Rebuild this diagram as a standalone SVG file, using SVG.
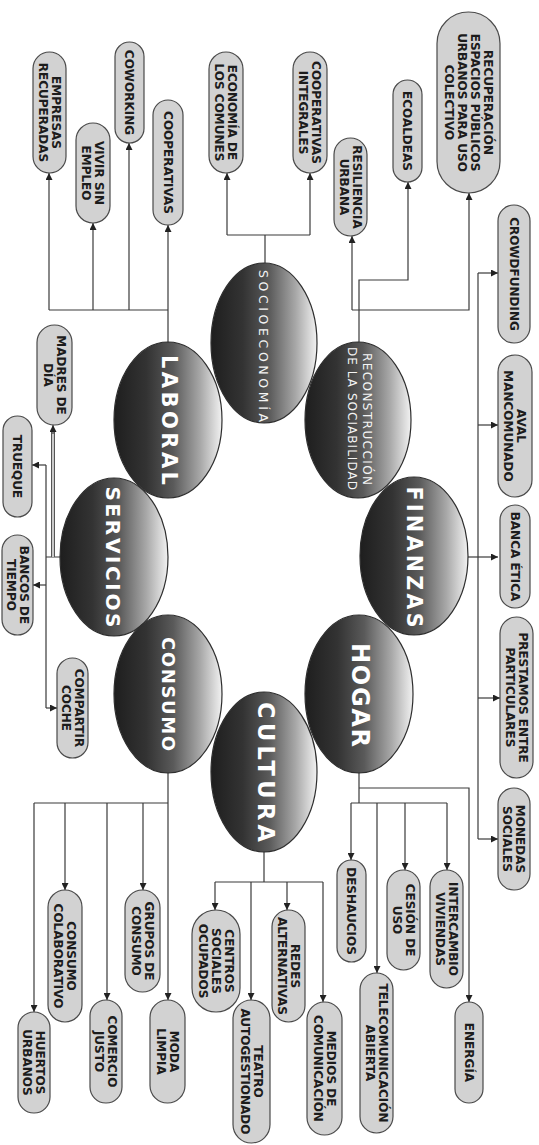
<svg xmlns="http://www.w3.org/2000/svg" width="539" height="1145" viewBox="0 0 539 1145">
<style>
.bg{fill:#ffffff}
.big{fill:url(#eg);stroke:#2e2e2e;stroke-width:1.2}
.lbl{font-family:"DejaVu Sans","Open Sans",sans-serif;font-weight:bold;fill:#ffffff;text-anchor:middle}
.lbs{font-family:"DejaVu Sans","Open Sans",sans-serif;font-weight:normal;fill:#f4f4f4;text-anchor:middle}
.nd{fill:#d2d2d2;stroke:#4a4a4a;stroke-width:1.2}
.t{font-family:"DejaVu Sans","Liberation Sans",sans-serif;font-weight:bold;font-size:12px;fill:#1c1c1c;text-anchor:middle}
.c{fill:none;stroke:#3a3a3a;stroke-width:1.2}
.ca{fill:none;stroke:#3a3a3a;stroke-width:1.2;marker-end:url(#ar)}
.dbl{fill:none;stroke:#555;stroke-width:4}
.dbli{fill:none;stroke:#e6e6e6;stroke-width:1.6}
</style>
<defs>
<linearGradient id="eg" x1="0" y1="0" x2="1" y2="0">
<stop offset="0" stop-color="#1e1e1e"/>
<stop offset="0.3" stop-color="#333333"/>
<stop offset="0.55" stop-color="#5a5a5a"/>
<stop offset="0.8" stop-color="#a8a8a8"/>
<stop offset="1" stop-color="#f2f2f2"/>
</linearGradient>
<marker id="ar" markerUnits="userSpaceOnUse" markerWidth="8" markerHeight="7" refX="7" refY="3.5" orient="auto">
<path d="M0,0 L7,3.5 L0,7 z" fill="#222"/>
</marker>
</defs>
<rect class="bg" x="0" y="0" width="539" height="1145"/>

<g id="connectors">
<!-- Laboral -->
<path class="c" d="M168,342 V310 M49,310 H168"/>
<path class="ca" d="M49,310 V173"/>
<path class="ca" d="M93,310 V223"/>
<path class="ca" d="M129,310 V143"/>
<path class="ca" d="M168,310 V225"/>
<!-- Socioeconomia -->
<path class="c" d="M265,263 V235 M227,235 H310"/>
<path class="ca" d="M227,235 V173"/>
<path class="ca" d="M310,235 V173"/>
<!-- Reconstruccion -->
<path class="ca" d="M359,342 V280 H408 V182"/>
<path class="ca" d="M352,310 H469 V193"/>
<path class="ca" d="M352,310 V236"/>
<!-- Finanzas -->
<path class="c" d="M478,273 V839"/>
<path class="ca" d="M468,557 H498"/>
<path class="ca" d="M478,273 H498"/>
<path class="ca" d="M478,425 H498"/>
<path class="ca" d="M478,698 H500"/>
<path class="ca" d="M478,839 H498"/>
<!-- Hogar -->
<path class="c" d="M359,773 V803 M351,803 H447"/>
<path class="ca" d="M359,788 H469 V1002"/>
<path class="ca" d="M351,803 V860"/>
<path class="ca" d="M377,803 V973"/>
<path class="ca" d="M405,803 V870"/>
<path class="ca" d="M447,803 V870"/>
<!-- Cultura -->
<path class="c" d="M264,852 V882 M215,882 H323"/>
<path class="ca" d="M215,882 V910"/>
<path class="ca" d="M251,882 V1000"/>
<path class="ca" d="M287,882 V910"/>
<path class="ca" d="M323,882 V1002"/>
<!-- Consumo -->
<path class="c" d="M34,803 H168"/>
<path class="ca" d="M168,773 V1000"/>
<path class="ca" d="M34,803 V1012"/>
<path class="ca" d="M65,803 V890"/>
<path class="ca" d="M107,803 V1000"/>
<path class="ca" d="M143,803 V890"/>
<!-- Servicios -->
<path class="c" d="M60,557 H46 M46,465 V708"/>
<path class="ca" d="M46,465 H32"/>
<path class="ca" d="M46,585 H33"/>
<path class="ca" d="M46,708 H57"/>
<path class="dbl" d="M53,557 V432"/>
<path class="dbli" d="M53,557 V432"/>
<path class="ca" d="M53,434 V425"/>
</g>

<g id="socioeconomia">
<ellipse class="big" cx="264" cy="343" rx="53" ry="80"/>
<text class="lbs" transform="translate(263.5,346) rotate(90)" y="4.6" font-size="12.5" textLength="152" lengthAdjust="spacing">SOCIOECONOMÍA</text>
</g>
<g id="reconstruccion">
<ellipse class="big" cx="358" cy="420" rx="53" ry="78"/>
<text class="lbs" transform="translate(367,419) rotate(90)" y="4.4" font-size="12" textLength="132" lengthAdjust="spacing">RECONSTRUCCIÓN</text>
<text class="lbs" transform="translate(352,418.5) rotate(90)" y="4.4" font-size="12" textLength="143" lengthAdjust="spacing">DE LA SOCIABILIDAD</text>
</g>
<g id="laboral">
<ellipse class="big" cx="168" cy="420" rx="54" ry="78"/>
<text class="lbl" transform="translate(169.5,420) rotate(90)" y="7.7" font-size="21" textLength="130" lengthAdjust="spacing">LABORAL</text>
</g>
<g id="finanzas">
<ellipse class="big" cx="414" cy="556" rx="54" ry="79"/>
<text class="lbl" transform="translate(414,557) rotate(90)" y="7.5" font-size="20.5" textLength="141" lengthAdjust="spacing">FINANZAS</text>
</g>
<g id="servicios">
<ellipse class="big" cx="114" cy="557" rx="54" ry="79"/>
<text class="lbl" transform="translate(113.5,557) rotate(90)" y="7.3" font-size="20" textLength="141" lengthAdjust="spacing">SERVICIOS</text>
</g>
<g id="hogar">
<ellipse class="big" cx="359" cy="694" rx="54" ry="79"/>
<text class="lbl" transform="translate(361,695) rotate(90)" y="8.8" font-size="24" textLength="104" lengthAdjust="spacing">HOGAR</text>
</g>
<g id="consumo">
<ellipse class="big" cx="168" cy="694" rx="54" ry="79"/>
<text class="lbl" transform="translate(168.5,694) rotate(90)" y="6.6" font-size="18" textLength="114" lengthAdjust="spacing">CONSUMO</text>
</g>
<g id="cultura">
<ellipse class="big" cx="264" cy="772" rx="53" ry="80"/>
<text class="lbl" transform="translate(266,772) rotate(90)" y="8.2" font-size="22.5" textLength="140" lengthAdjust="spacing">CULTURA</text>
</g>

<g id="empresas-recuperadas">
<rect class="nd" x="33" y="52" width="33" height="121" rx="16.5"/>
<text class="t" transform="translate(49.5,112.5) rotate(90)"><tspan x="0" y="-2.1">EMPRESAS</tspan><tspan x="0" y="10.9">RECUPERADAS</tspan></text>
</g>
<g id="vivir-sin-empleo">
<rect class="nd" x="76" y="123" width="34" height="100" rx="17"/>
<text class="t" transform="translate(93,173) rotate(90)"><tspan x="0" y="-2.1">VIVIR SIN</tspan><tspan x="0" y="10.9">EMPLEO</tspan></text>
</g>
<g id="coworking">
<rect class="nd" x="115" y="42" width="29" height="101" rx="14.5"/>
<text class="t" transform="translate(129.5,92.5) rotate(90)"><tspan x="0" y="4.4">COWORKING</tspan></text>
</g>
<g id="cooperativas">
<rect class="nd" x="153" y="100" width="30" height="125" rx="15"/>
<text class="t" transform="translate(168,162.5) rotate(90)"><tspan x="0" y="4.4">COOPERATIVAS</tspan></text>
</g>
<g id="economia-comunes">
<rect class="nd" x="209" y="52" width="34" height="121" rx="17"/>
<text class="t" transform="translate(226,112.5) rotate(90)"><tspan x="0" y="-2.1">ECONOMÍA DE</tspan><tspan x="0" y="10.9">LOS COMUNES</tspan></text>
</g>
<g id="cooperativas-integrales">
<rect class="nd" x="293" y="52" width="34" height="121" rx="17"/>
<text class="t" transform="translate(310,112.5) rotate(90)"><tspan x="0" y="-2.1">COOPERATIVAS</tspan><tspan x="0" y="10.9">INTEGRALES</tspan></text>
</g>
<g id="resiliencia-urbana">
<rect class="nd" x="334" y="138" width="33" height="98" rx="16.5"/>
<text class="t" transform="translate(350.5,187) rotate(90)"><tspan x="0" y="-2.1">RESILIENCIA</tspan><tspan x="0" y="10.9">URBANA</tspan></text>
</g>
<g id="ecoaldeas">
<rect class="nd" x="393" y="80" width="29" height="102" rx="14.5"/>
<text class="t" transform="translate(407.5,131) rotate(90)"><tspan x="0" y="4.4">ECOALDEAS</tspan></text>
</g>
<g id="recuperacion-espacios">
<rect class="nd" x="437" y="12" width="63" height="181" rx="31.5"/>
<text class="t" transform="translate(468.5,102.5) rotate(90)"><tspan x="0" y="-15.1">RECUPERACIÓN</tspan><tspan x="0" y="-2.1">ESPACIOS PÚBLICOS</tspan><tspan x="0" y="10.9">URBANOS PARA USO</tspan><tspan x="0" y="23.9">COLECTIVO</tspan></text>
</g>
<g id="crowdfunding">
<rect class="nd" x="498" y="205" width="32" height="138" rx="16"/>
<text class="t" transform="translate(514,274) rotate(90)"><tspan x="0" y="4.4">CROWDFUNDING</tspan></text>
</g>
<g id="aval-mancomunado">
<rect class="nd" x="498" y="355" width="34" height="142" rx="17"/>
<text class="t" transform="translate(515,426) rotate(90)"><tspan x="0" y="-2.1">AVAL</tspan><tspan x="0" y="10.9">MANCOMUNADO</tspan></text>
</g>
<g id="banca-etica">
<rect class="nd" x="500" y="505" width="30" height="103" rx="15"/>
<text class="t" transform="translate(515,556.5) rotate(90)"><tspan x="0" y="4.4">BANCA ÉTICA</tspan></text>
</g>
<g id="prestamos">
<rect class="nd" x="500" y="617" width="33" height="161" rx="16.5"/>
<text class="t" transform="translate(516.5,697.5) rotate(90)"><tspan x="0" y="-2.1">PRESTAMOS ENTRE</tspan><tspan x="0" y="10.9">PARTICULARES</tspan></text>
</g>
<g id="monedas-sociales">
<rect class="nd" x="498" y="788" width="32" height="102" rx="16"/>
<text class="t" transform="translate(514,839) rotate(90)"><tspan x="0" y="-2.1">MONEDAS</tspan><tspan x="0" y="10.9">SOCIALES</tspan></text>
</g>
<g id="intercambio-viviendas">
<rect class="nd" x="430" y="870" width="33" height="118" rx="16.5"/>
<text class="t" transform="translate(446.5,929) rotate(90)"><tspan x="0" y="-2.1">INTERCAMBIO</tspan><tspan x="0" y="10.9">VIVIENDAS</tspan></text>
</g>
<g id="cesion-uso">
<rect class="nd" x="387" y="870" width="33" height="100" rx="16.5"/>
<text class="t" transform="translate(403.5,920) rotate(90)"><tspan x="0" y="-2.1">CESIÓN DE</tspan><tspan x="0" y="10.9">USO</tspan></text>
</g>
<g id="deshaucios">
<rect class="nd" x="337" y="860" width="29" height="102" rx="14.5"/>
<text class="t" transform="translate(351.5,911) rotate(90)"><tspan x="0" y="4.4">DESHAUCIOS</tspan></text>
</g>
<g id="telecomunicacion">
<rect class="nd" x="360" y="973" width="33" height="160" rx="16.5"/>
<text class="t" transform="translate(376.5,1053) rotate(90)"><tspan x="0" y="-2.1">TELECOMUNICACIÓN</tspan><tspan x="0" y="10.9">ABIERTA</tspan></text>
</g>
<g id="energia">
<rect class="nd" x="455" y="1002" width="28" height="101" rx="14"/>
<text class="t" transform="translate(469,1052.5) rotate(90)"><tspan x="0" y="4.4">ENERGÍA</tspan></text>
</g>
<g id="medios-comunicacion">
<rect class="nd" x="307" y="1002" width="35" height="133" rx="17.5"/>
<text class="t" transform="translate(324.5,1068.5) rotate(90)"><tspan x="0" y="-2.1">MEDIOS DE</tspan><tspan x="0" y="10.9">COMUNICACIÓN</tspan></text>
</g>
<g id="redes-alternativas">
<rect class="nd" x="272" y="910" width="33" height="112" rx="16.5"/>
<text class="t" transform="translate(288.5,966) rotate(90)"><tspan x="0" y="-2.1">REDES</tspan><tspan x="0" y="10.9">ALTERNATIVAS</tspan></text>
</g>
<g id="centros-sociales">
<rect class="nd" x="192" y="910" width="48" height="102" rx="24"/>
<text class="t" transform="translate(216,961) rotate(90)"><tspan x="0" y="-8.6">CENTROS</tspan><tspan x="0" y="4.4">SOCIALES</tspan><tspan x="0" y="17.4">OCUPADOS</tspan></text>
</g>
<g id="teatro">
<rect class="nd" x="233" y="1000" width="37" height="143" rx="18.5"/>
<text class="t" transform="translate(251.5,1071.5) rotate(90)"><tspan x="0" y="-2.1">TEATRO</tspan><tspan x="0" y="10.9">AUTOGESTIONADO</tspan></text>
</g>
<g id="moda-limpia">
<rect class="nd" x="150" y="1000" width="35" height="103" rx="17.5"/>
<text class="t" transform="translate(167.5,1051.5) rotate(90)"><tspan x="0" y="-2.1">MODA</tspan><tspan x="0" y="10.9">LIMPIA</tspan></text>
</g>
<g id="grupos-consumo">
<rect class="nd" x="125" y="890" width="35" height="102" rx="17.5"/>
<text class="t" transform="translate(142.5,941) rotate(90)"><tspan x="0" y="-2.1">GRUPOS DE</tspan><tspan x="0" y="10.9">CONSUMO</tspan></text>
</g>
<g id="comercio-justo">
<rect class="nd" x="90" y="1000" width="32" height="103" rx="16"/>
<text class="t" transform="translate(106,1051.5) rotate(90)"><tspan x="0" y="-2.1">COMERCIO</tspan><tspan x="0" y="10.9">JUSTO</tspan></text>
</g>
<g id="consumo-colaborativo">
<rect class="nd" x="48" y="890" width="34" height="132" rx="17"/>
<text class="t" transform="translate(65,956) rotate(90)"><tspan x="0" y="-2.1">CONSUMO</tspan><tspan x="0" y="10.9">COLABORATIVO</tspan></text>
</g>
<g id="huertos-urbanos">
<rect class="nd" x="18" y="1012" width="32" height="101" rx="16"/>
<text class="t" transform="translate(34,1062.5) rotate(90)"><tspan x="0" y="-2.1">HUERTOS</tspan><tspan x="0" y="10.9">URBANOS</tspan></text>
</g>
<g id="madres-dia">
<rect class="nd" x="37" y="325" width="35" height="100" rx="17.5"/>
<text class="t" transform="translate(54.5,375) rotate(90)"><tspan x="0" y="-2.1">MADRES DE</tspan><tspan x="0" y="10.9">DÍA</tspan></text>
</g>
<g id="trueque">
<rect class="nd" x="3" y="416" width="29" height="101" rx="14.5"/>
<text class="t" transform="translate(17.5,466.5) rotate(90)"><tspan x="0" y="4.4">TRUEQUE</tspan></text>
</g>
<g id="bancos-tiempo">
<rect class="nd" x="2" y="535" width="31" height="100" rx="15.5"/>
<text class="t" transform="translate(17.5,585) rotate(90)"><tspan x="0" y="-2.1">BANCOS DE</tspan><tspan x="0" y="10.9">TIEMPO</tspan></text>
</g>
<g id="compartir-coche">
<rect class="nd" x="57" y="658" width="31" height="100" rx="15.5"/>
<text class="t" transform="translate(72.5,708) rotate(90)"><tspan x="0" y="-2.1">COMPARTIR</tspan><tspan x="0" y="10.9">COCHE</tspan></text>
</g>
</svg>
